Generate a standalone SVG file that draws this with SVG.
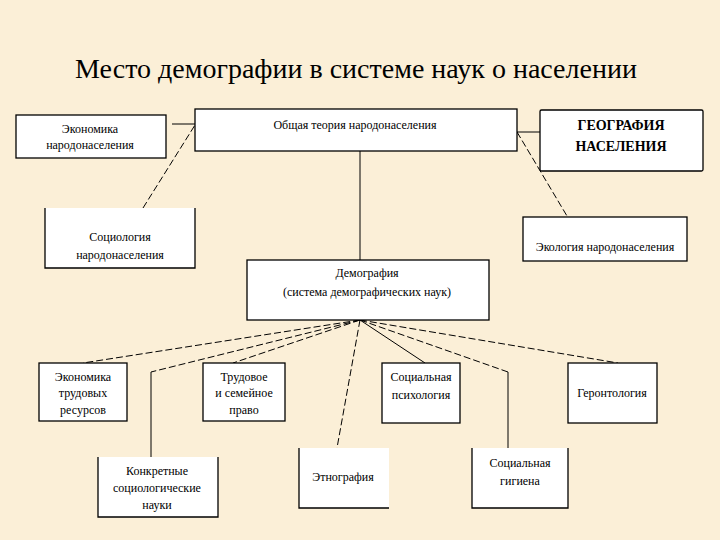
<svg xmlns="http://www.w3.org/2000/svg" width="720" height="540" viewBox="0 0 720 540">
<style>
.bg{fill:#FBEFD7}
.box{fill:#FFFFFF}
.edge{fill:none;stroke:#000;stroke-width:1.3}
.t{font-family:"Liberation Serif","Times New Roman",serif;font-size:12px;fill:#000;text-anchor:middle}
.tb{font-family:"Liberation Serif","Times New Roman",serif;font-size:14px;font-weight:bold;fill:#000;text-anchor:middle}
.title{font-family:"Liberation Serif","Times New Roman",serif;font-size:28px;fill:#000;text-anchor:middle}
.solid{fill:none;stroke:#000;stroke-width:1}
.dash{fill:none;stroke:#000;stroke-width:1;stroke-dasharray:7,3}
</style>
<rect class="bg" x="0" y="0" width="720" height="540"/>
<text class="title" x="356" y="78">Место демографии в системе наук о населении</text>

<g id="connectors">
<line class="solid" x1="172" y1="124" x2="195" y2="124"/>
<line class="dash" x1="143" y1="208" x2="195" y2="125"/>
<line class="solid" x1="517" y1="132" x2="540" y2="132"/>
<line class="dash" x1="517" y1="132" x2="567" y2="216"/>
<line class="solid" x1="360" y1="151" x2="360" y2="260"/>
<line class="dash" x1="360" y1="320" x2="83" y2="363"/>
<polyline class="dash" points="360,320 151,372"/>
<line class="solid" x1="151" y1="372" x2="151" y2="457"/>
<line class="dash" x1="360" y1="320" x2="233" y2="363"/>
<line class="dash" x1="360" y1="320" x2="337" y2="448"/>
<line class="solid" x1="360" y1="320" x2="425" y2="363"/>
<polyline class="dash" points="360,320 508,372"/>
<line class="solid" x1="508" y1="372" x2="508" y2="448"/>
<line class="dash" x1="360" y1="320" x2="618" y2="363"/>
</g>

<g id="econ-nar">
<rect class="box" x="16" y="115" width="150" height="43"/>
<rect class="edge" x="16" y="115" width="150" height="43"/>
<text class="t" x="90" y="133">Экономика</text>
<text class="t" x="90" y="149">народонаселения</text>
</g>

<g id="obsh-teoria">
<rect class="box" x="195" y="109" width="322" height="42"/>
<rect class="edge" x="195" y="109" width="322" height="42"/>
<text class="t" x="355" y="129">Общая теория народонаселения</text>
</g>

<g id="geografia">
<rect class="box" x="540" y="110" width="163" height="61"/>
<rect class="edge" x="540" y="110" width="163" height="61" rx="1.5"/>
<text class="tb" x="621" y="130">ГЕОГРАФИЯ</text>
<text class="tb" x="621" y="151">НАСЕЛЕНИЯ</text>
</g>

<g id="sociologia">
<rect class="box" x="45" y="208" width="150" height="60"/>
<path class="edge" d="M45,208 V268 H195 V208"/>
<text class="t" x="120" y="241">Социология</text>
<text class="t" x="120" y="259">народонаселения</text>
</g>

<g id="ekologia">
<rect class="box" x="523" y="217" width="164" height="44"/>
<rect class="edge" x="523" y="217" width="164" height="44"/>
<text class="t" x="605" y="251">Экология народонаселения</text>
</g>

<g id="demografia">
<rect class="box" x="247" y="260" width="242" height="60"/>
<rect class="edge" x="247" y="260" width="242" height="60"/>
<text class="t" x="367" y="277">Демография</text>
<text class="t" x="367" y="296">(система демографических наук)</text>
</g>

<g id="econ-trud">
<rect class="box" x="39" y="363" width="88" height="58"/>
<rect class="edge" x="39" y="363" width="88" height="58"/>
<text class="t" x="83" y="381">Экономика</text>
<text class="t" x="83" y="397">трудовых</text>
<text class="t" x="83" y="414">ресурсов</text>
</g>

<g id="trudovoe">
<rect class="box" x="203" y="363" width="82" height="58"/>
<rect class="edge" x="203" y="363" width="82" height="58"/>
<text class="t" x="244" y="381">Трудовое</text>
<text class="t" x="244" y="397">и семейное</text>
<text class="t" x="244" y="414">право</text>
</g>

<g id="soc-psih">
<rect class="box" x="382" y="363" width="78" height="60"/>
<rect class="edge" x="382" y="363" width="78" height="60"/>
<text class="t" x="421" y="381">Социальная</text>
<text class="t" x="421" y="399">психология</text>
</g>

<g id="gerontologia">
<rect class="box" x="568" y="363" width="89" height="60"/>
<rect class="edge" x="568" y="363" width="89" height="60"/>
<text class="t" x="612" y="397">Геронтология</text>
</g>

<g id="konkretnye">
<rect class="box" x="98" y="457" width="120" height="60"/>
<path class="edge" d="M98,457 V517 H218 V457"/>
<text class="t" x="157" y="475">Конкретные</text>
<text class="t" x="157" y="492">социологические</text>
<text class="t" x="157" y="509">науки</text>
</g>

<g id="etnografia">
<rect class="box" x="299" y="448" width="90" height="60"/>
<path class="edge" d="M299,448 V508 H389"/>
<text class="t" x="343" y="481">Этнография</text>
</g>

<g id="soc-gigiena">
<rect class="box" x="472" y="448" width="96" height="60"/>
<path class="edge" d="M472,448 V508 H568 V448"/>
<text class="t" x="520" y="467">Социальная</text>
<text class="t" x="520" y="485">гигиена</text>
</g>
</svg>
